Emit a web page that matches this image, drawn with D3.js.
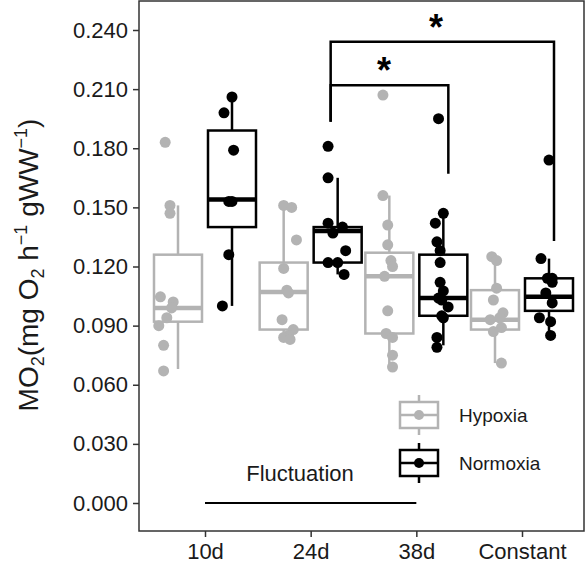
<!DOCTYPE html>
<html><head><meta charset="utf-8">
<script src="https://cdn.jsdelivr.net/npm/d3@7"></script>
<style>body{margin:0;background:#fff}svg{font-family:Arial,"Liberation Sans",sans-serif}</style>
</head><body><svg id="c" width="588" height="564"></svg>
<script>
const categories = ["10d","24d","38d","Constant"];
const groups = ["Hypoxia","Normoxia"];
const yTicks = [0,0.03,0.06,0.09,0.12,0.15,0.18,0.21,0.24];
// points per category [hypoxia, normoxia]
const hypPoints = [
 [0.183,0.151,0.147,0.1046,0.102,0.099,0.094,0.090,0.080,0.067],
 [0.151,0.150,0.1335,0.119,0.108,0.1066,0.093,0.088,0.085,0.084,0.083],
 [0.207,0.156,0.141,0.131,0.123,0.120,0.115,0.0975,0.086,0.084,0.075,0.069],
 [0.125,0.123,0.109,0.103,0.0965,0.094,0.093,0.089,0.087,0.071]
];
const hypJitter = [
 [-0.8,-0.5,-0.5,-1.1,-0.3,-0.4,-0.7,-1.2,-0.9,-0.9],
 [0.0,0.5,0.8,0.0,0.2,0.3,-0.1,0.6,0.3,0.0,0.4],
 [-0.4,-0.4,-0.1,-0.1,0.1,0.2,-0.3,-0.1,-0.2,0.2,0.2,0.2],
 [-0.2,0.1,0.1,-0.1,0.5,0.3,-0.3,0.4,-0.1,0.4]
];
const normPoints = [
 [0.206,0.198,0.179,0.153,0.153,0.126,0.100],
 [0.181,0.165,0.142,0.140,0.137,0.128,0.122,0.122,0.116],
 [0.195,0.147,0.142,0.1325,0.128,0.122,0.112,0.1076,0.104,0.103,0.0995,0.095,0.094,0.084,0.079],
 [0.174,0.124,0.114,0.114,0.112,0.1066,0.1015,0.094,0.092,0.085]
];
const normJitter = [
 [0.0,-0.5,0.1,-0.2,0.0,-0.2,-0.6],
 [-0.6,-0.6,-0.6,0.3,-0.3,0.5,-0.6,0.0,0.4],
 [-0.3,0.0,-0.5,-0.4,-0.2,-0.2,-0.2,0.0,-0.3,-0.1,0.3,-0.1,0.0,-0.4,-0.4],
 [0.0,-0.5,-0.1,0.2,0.2,-0.2,0.2,-0.6,0.1,0.1]
];
// box stats: [whiskerLow, q1, median, q3, whiskerHigh]
const hypBoxes = [[0.068,0.092,0.099,0.126,0.151],[0.084,0.088,0.107,0.122,0.151],[0.069,0.086,0.115,0.127,0.156],[0.071,0.088,0.093,0.108,0.126]];
const normBoxes = [[0.100,0.140,0.154,0.189,0.206],[0.116,0.122,0.138,0.140,0.165],[0.080,0.095,0.104,0.126,0.147],[0.085,0.0975,0.1046,0.114,0.124]];
const colors = {Hypoxia:"#b3b3b3",Normoxia:"#000"};

const svg = d3.select("#c");
const L=139,R=584,T=1,B=531;
const x = d3.scalePoint().domain(categories).range([205,522]);
const y = d3.scaleLinear().domain([0,0.24]).range([503,30]);
const dodge = 27, bw = 48;

svg.append("rect").attr("x",L).attr("y",T).attr("width",R-L).attr("height",B-T).attr("fill","none").attr("stroke","#333").attr("stroke-width",1.5);
const ya = svg.append("g").attr("transform",`translate(${L},0)`).call(d3.axisLeft(y).tickValues(yTicks).tickFormat(d3.format(".3f")).tickSize(6).tickPadding(5));
ya.select(".domain").remove();
ya.selectAll("line").attr("stroke","#333").attr("stroke-width",1.5);
ya.selectAll("text").attr("font-size",22).attr("fill","#1a1a1a");
const xa = svg.append("g").attr("transform",`translate(0,${B})`).call(d3.axisBottom(x).tickSize(6).tickPadding(6));
xa.select(".domain").remove();
xa.selectAll("line").attr("stroke","#333").attr("stroke-width",1.5);
xa.selectAll("text").attr("font-size",22).attr("fill","#1a1a1a");

function drawGroup(boxes, pts, jit, g, off){
  const col = colors[g];
  categories.forEach((c,i)=>{
    const cx = x(c)+off, s=boxes[i];
    const gg = svg.append("g").attr("stroke",col).attr("stroke-width",2.5).attr("fill","none");
    gg.append("line").attr("x1",cx).attr("x2",cx).attr("y1",y(s[0])).attr("y2",y(s[1]));
    gg.append("line").attr("x1",cx).attr("x2",cx).attr("y1",y(s[3])).attr("y2",y(s[4]));
    gg.append("rect").attr("x",cx-bw/2).attr("y",y(s[3])).attr("width",bw).attr("height",y(s[1])-y(s[3]));
    gg.append("line").attr("x1",cx-bw/2).attr("x2",cx+bw/2).attr("y1",y(s[2])).attr("y2",y(s[2])).attr("stroke-width",4.5);
    svg.append("g").selectAll("circle").data(pts[i]).join("circle")
      .attr("cx",(d,j)=>cx+jit[i][j]*16).attr("cy",d=>y(d)).attr("r",5.5).attr("fill",col);
  });
}
drawGroup(hypBoxes,hypPoints,hypJitter,"Hypoxia",-dodge);
drawGroup(normBoxes,normPoints,normJitter,"Normoxia",dodge);

// significance brackets
const br = svg.append("g").attr("stroke","#000").attr("stroke-width",2.5).attr("fill","none");
br.append("path").attr("d",`M${x("24d")+20},${y(0.1935)}V${y(0.234)}H${x("Constant")+32}V${y(0.133)}`);
br.append("path").attr("d",`M${x("24d")+20},${y(0.1935)}V${y(0.212)}H${x("38d")+32}V${y(0.167)}`);
svg.append("text").attr("x",436).attr("y",y(0.234)-2).attr("text-anchor","middle").attr("font-size",36).attr("font-weight","bold").text("*");
svg.append("text").attr("x",384).attr("y",y(0.212)-2).attr("text-anchor","middle").attr("font-size",36).attr("font-weight","bold").text("*");

// fluctuation
svg.append("line").attr("x1",x("10d")).attr("x2",x("38d")).attr("y1",y(0)).attr("y2",y(0)).attr("stroke","#000").attr("stroke-width",2);
svg.append("text").attr("x",300).attr("y",y(0.011)).attr("text-anchor","middle").attr("font-size",22).attr("fill","#1a1a1a").text("Fluctuation");

// legend
groups.forEach((g,i)=>{
  const cy = 415 + i*48, cx = 419, col=colors[g];
  const lg = svg.append("g").attr("stroke",col).attr("stroke-width",2.5).attr("fill","none");
  lg.append("line").attr("x1",cx).attr("x2",cx).attr("y1",cy-20).attr("y2",cy+20);
  lg.append("rect").attr("x",cx-19).attr("y",cy-13).attr("width",38).attr("height",26).attr("fill","#fff");
  lg.append("line").attr("x1",cx-19).attr("x2",cx+19).attr("y1",cy).attr("y2",cy);
  svg.append("circle").attr("cx",cx).attr("cy",cy).attr("r",5).attr("fill",col);
  svg.append("text").attr("x",459).attr("y",cy+7).attr("font-size",19).attr("fill","#1a1a1a").text(g);
});

// y label
const yl = svg.append("text").attr("transform","translate(38,265) rotate(-90)").attr("text-anchor","middle").attr("font-size",28).attr("fill","#1a1a1a");
yl.append("tspan").text("MO");
yl.append("tspan").attr("font-size",18).attr("dy",6).text("2");
yl.append("tspan").attr("dy",-6).text("(mg O");
yl.append("tspan").attr("font-size",18).attr("dy",6).text("2");
yl.append("tspan").attr("dy",-6).text(" h");
yl.append("tspan").attr("font-size",18).attr("dy",-11).text("−1");
yl.append("tspan").attr("dy",11).text(" gWW");
yl.append("tspan").attr("font-size",18).attr("dy",-11).text("−1");
yl.append("tspan").attr("dy",11).text(")");
</script></body></html>
